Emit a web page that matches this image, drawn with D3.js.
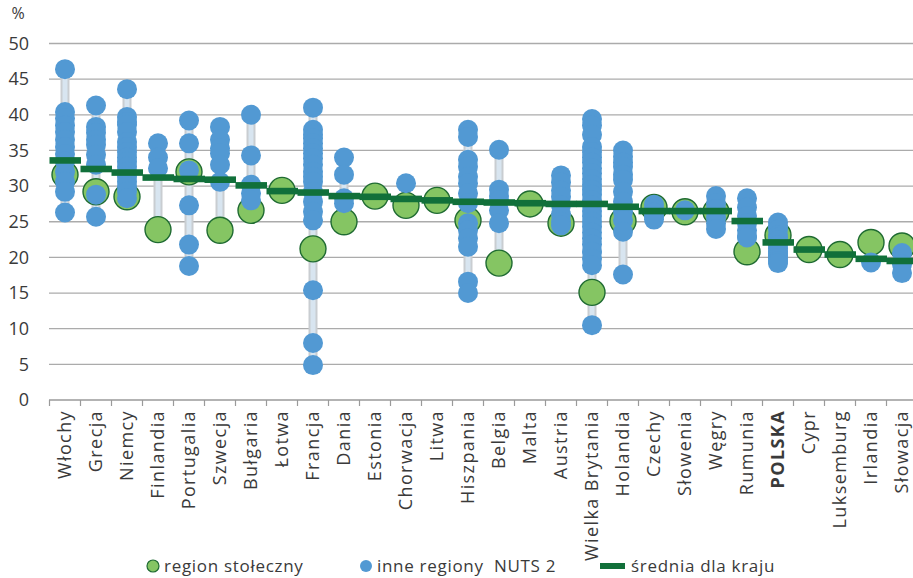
<!DOCTYPE html>
<html>
<head>
<meta charset="utf-8">
<script src="https://cdn.jsdelivr.net/npm/d3@7"></script>
<style>
  body { margin: 0; background: #fff; }
  svg { display: block; font-family: "Open Sans", "Noto Sans", sans-serif; }
</style>
</head>
<body>
<svg id="chart" width="913" height="578"></svg>
<script>
// ---------- data ----------
const countries = ['Włochy', 'Grecja', 'Niemcy', 'Finlandia', 'Portugalia', 'Szwecja', 'Bułgaria', 'Łotwa',
  'Francja', 'Dania', 'Estonia', 'Chorwacja', 'Litwa', 'Hiszpania', 'Belgia', 'Malta', 'Austria',
  'Wielka Brytania', 'Holandia', 'Czechy', 'Słowenia', 'Węgry', 'Rumunia', 'POLSKA', 'Cypr',
  'Luksemburg', 'Irlandia', 'Słowacja'];

// region stołeczny
const capital = [31.6, 29.2, 28.5, 23.9, 32.0, 23.8, 26.6, 29.4, 21.2, 25.0, 28.6, 27.3, 28.0, 25.2,
  19.2, 27.5, 24.8, 15.1, 25.1, 27.0, 26.4, 26.4, 20.8, 23.1, 21.1, 20.4, 22.1, 21.6];

// średnia dla kraju
const means = [33.6, 32.4, 31.9, 31.2, 31.0, 30.9, 30.1, 29.3, 29.1, 28.6, 28.5, 28.2, 28.0, 27.8,
  27.7, 27.6, 27.5, 27.5, 27.1, 26.5, 26.5, 26.5, 25.1, 22.1, 21.1, 20.4, 19.8, 19.5];

// inne regiony NUTS 2
const others = [
  [46.4, 40.4, 39.5, 38.5, 37.6, 36.5, 35.5, 34.5, 33.5, 32.0, 30.6, 29.2, 26.3],
  [41.3, 38.3, 37.5, 36.5, 35.8, 34.4, 33.0, 28.8, 25.7],
  [43.6, 39.7, 39.0, 38.6, 37.6, 36.2, 35.5, 34.8, 34.0, 33.4, 32.7, 32.0, 31.3, 30.6, 29.9, 29.2, 28.3],
  [36.0, 34.0, 32.5],
  [39.2, 36.0, 32.2, 27.3, 21.8, 18.8],
  [38.3, 36.5, 35.3, 34.6, 33.0, 30.6],
  [40.0, 34.3, 30.2, 29.0, 28.0],
  [],
  [41.0, 37.9, 37.2, 36.7, 36.0, 35.3, 34.6, 33.9, 33.0, 32.0, 31.3, 30.6, 29.2, 27.8, 26.4, 25.2, 15.4, 8.0, 4.9],
  [34.0, 31.6, 28.3, 27.6],
  [],
  [30.4],
  [],
  [37.9, 36.9, 33.7, 32.7, 31.3, 30.4, 29.0, 27.6, 24.8, 23.8, 22.7, 21.5, 16.6, 15.0],
  [35.1, 29.5, 28.6, 28.0, 26.6, 24.8],
  [],
  [31.5, 30.5, 29.4, 28.5, 27.3, 26.0, 25.0, 24.5],
  [39.4, 38.5, 37.2, 35.5, 34.8, 34.0, 33.3, 32.5, 31.8, 31.0, 30.2, 29.5, 28.8, 28.0, 27.3, 26.5,
    25.8, 25.0, 24.3, 23.5, 22.7, 21.8, 20.8, 19.8, 18.9, 10.5],
  [35.0, 34.1, 33.3, 32.7, 31.6, 30.9, 29.2, 27.8, 26.4, 25.2, 23.6, 17.6],
  [27.4, 26.8, 26.3, 25.8, 25.3],
  [26.6],
  [28.6, 27.6, 26.8, 25.6, 24.8, 24.0],
  [28.3, 27.0, 25.8, 24.8, 23.8, 23.0, 22.8],
  [24.9, 24.3, 23.9, 23.1, 22.8, 22.4, 21.7, 21.3, 20.9, 20.6, 20.2, 19.9, 19.5, 19.2],
  [],
  [],
  [19.3],
  [20.6, 19.0, 17.8]
];

const yTicks = [0, 5, 10, 15, 20, 25, 30, 35, 40, 45, 50];
const legendLabels = ['region stołeczny', 'inne regiony  NUTS 2', 'średnia dla kraju'];

// ---------- colours ----------
const BLUE = '#5299d3';
const GREEN = '#85c563';
const GREEN_EDGE = '#1f6b32';
const MEAN = '#11703a';
const TEXT = '#3a3a3a';

// ---------- scales ----------
const svg = d3.select('#chart');
const x = d3.scaleBand().domain(countries).range([49.5, 49.5 + 31 * countries.length]).padding(0);
const y = d3.scaleLinear().domain([0, 50]).range([400, 43.5]);
const cx = (c) => x(c) + x.bandwidth() / 2;

// ---------- grid ----------
svg.append('g')
  .selectAll('line')
  .data(yTicks.filter((t) => t > 0))
  .join('line')
  .attr('x1', 49).attr('x2', 913)
  .attr('y1', (d) => y(d)).attr('y2', (d) => y(d))
  .attr('stroke', '#ababab')
  .attr('stroke-width', 1.3);

// y labels
svg.append('g')
  .selectAll('text')
  .data(yTicks)
  .join('text')
  .attr('x', 29)
  .attr('y', (d) => y(d))
  .attr('dy', '0.35em')
  .attr('text-anchor', 'end')
  .attr('fill', TEXT)
  .attr('font-size', 18)
  .text((d) => d);

svg.append('text')
  .attr('x', 18).attr('y', 19)
  .attr('text-anchor', 'middle')
  .attr('fill', TEXT)
  .attr('font-size', 16)
  .text('%');

// x axis
const xAxis = svg.append('g').attr('transform', `translate(0,${y(0)})`)
  .call(d3.axisBottom(x).tickSize(0).tickFormat(''));
xAxis.select('.domain').attr('stroke', '#9a9a9a').attr('stroke-width', 1.3).attr('d', 'M49,0H913');
svg.append('g')
  .selectAll('line')
  .data(countries.concat(['__end']))
  .join('line')
  .attr('x1', (d, i) => 49.5 + i * x.bandwidth())
  .attr('x2', (d, i) => 49.5 + i * x.bandwidth())
  .attr('y1', y(0)).attr('y2', y(0) + 6)
  .attr('stroke', '#9a9a9a')
  .attr('stroke-width', 1.2);

svg.append('g')
  .selectAll('text')
  .data(countries)
  .join('text')
  .attr('transform', (d) => `translate(${cx(d)},${y(0) + 10}) rotate(-90)`)
  .attr('dy', '0.35em')
  .attr('text-anchor', 'end')
  .attr('fill', TEXT)
  .attr('font-size', 18)
  .attr('letter-spacing', 1.4)
  .attr('font-weight', (d) => (d === 'POLSKA' ? 700 : 400))
  .text((d) => d);

// ---------- range bars ----------
const ranges = countries.map((c, i) => {
  const vals = others[i].concat([capital[i]]);
  return { c, lo: d3.min(vals), hi: d3.max(vals) };
}).filter((r) => r.hi > r.lo);

const rg = svg.append('g');
rg.selectAll('rect.outer')
  .data(ranges)
  .join('rect')
  .attr('class', 'outer')
  .attr('x', (d) => cx(d.c) - 4.5)
  .attr('width', 9)
  .attr('y', (d) => y(d.hi))
  .attr('height', (d) => y(d.lo) - y(d.hi))
  .attr('fill', '#c9cdd1');
rg.selectAll('rect.inner')
  .data(ranges)
  .join('rect')
  .attr('class', 'inner')
  .attr('x', (d) => cx(d.c) - 2.5)
  .attr('width', 5)
  .attr('y', (d) => y(d.hi))
  .attr('height', (d) => y(d.lo) - y(d.hi))
  .attr('fill', '#d8e5f0');

// ---------- capital regions ----------
svg.append('g')
  .selectAll('circle')
  .data(countries.map((c, i) => ({ c, v: capital[i] })))
  .join('circle')
  .attr('cx', (d) => cx(d.c))
  .attr('cy', (d) => y(d.v))
  .attr('r', 13)
  .attr('fill', GREEN)
  .attr('stroke', GREEN_EDGE)
  .attr('stroke-width', 1.4);

// ---------- other regions ----------
svg.append('g')
  .selectAll('circle')
  .data(countries.flatMap((c, i) => others[i].map((v) => ({ c, v }))))
  .join('circle')
  .attr('cx', (d) => cx(d.c))
  .attr('cy', (d) => y(d.v))
  .attr('r', 10)
  .attr('fill', BLUE);

// ---------- country means ----------
svg.append('g')
  .selectAll('rect')
  .data(countries.map((c, i) => ({ c, v: means[i] })))
  .join('rect')
  .attr('x', (d) => x(d.c))
  .attr('width', x.bandwidth() + 0.5)
  .attr('y', (d) => y(d.v) - 3.3)
  .attr('height', 6.6)
  .attr('fill', MEAN);

// ---------- legend ----------
const lg = svg.append('g').attr('font-size', 17).attr('fill', TEXT).attr('letter-spacing', 0.7);
lg.append('circle').attr('cx', 153).attr('cy', 566).attr('r', 6)
  .attr('fill', GREEN).attr('stroke', GREEN_EDGE).attr('stroke-width', 1.2);
lg.append('text').attr('x', 164).attr('y', 572).text(legendLabels[0]);
lg.append('circle').attr('cx', 366).attr('cy', 566).attr('r', 6).attr('fill', BLUE);
lg.append('text').attr('x', 377).attr('y', 572).attr('xml:space', 'preserve').text(legendLabels[1]);
lg.append('rect').attr('x', 600).attr('y', 563).attr('width', 25).attr('height', 6).attr('fill', MEAN);
lg.append('text').attr('x', 631).attr('y', 572).text(legendLabels[2]);
</script>
</body>
</html>
